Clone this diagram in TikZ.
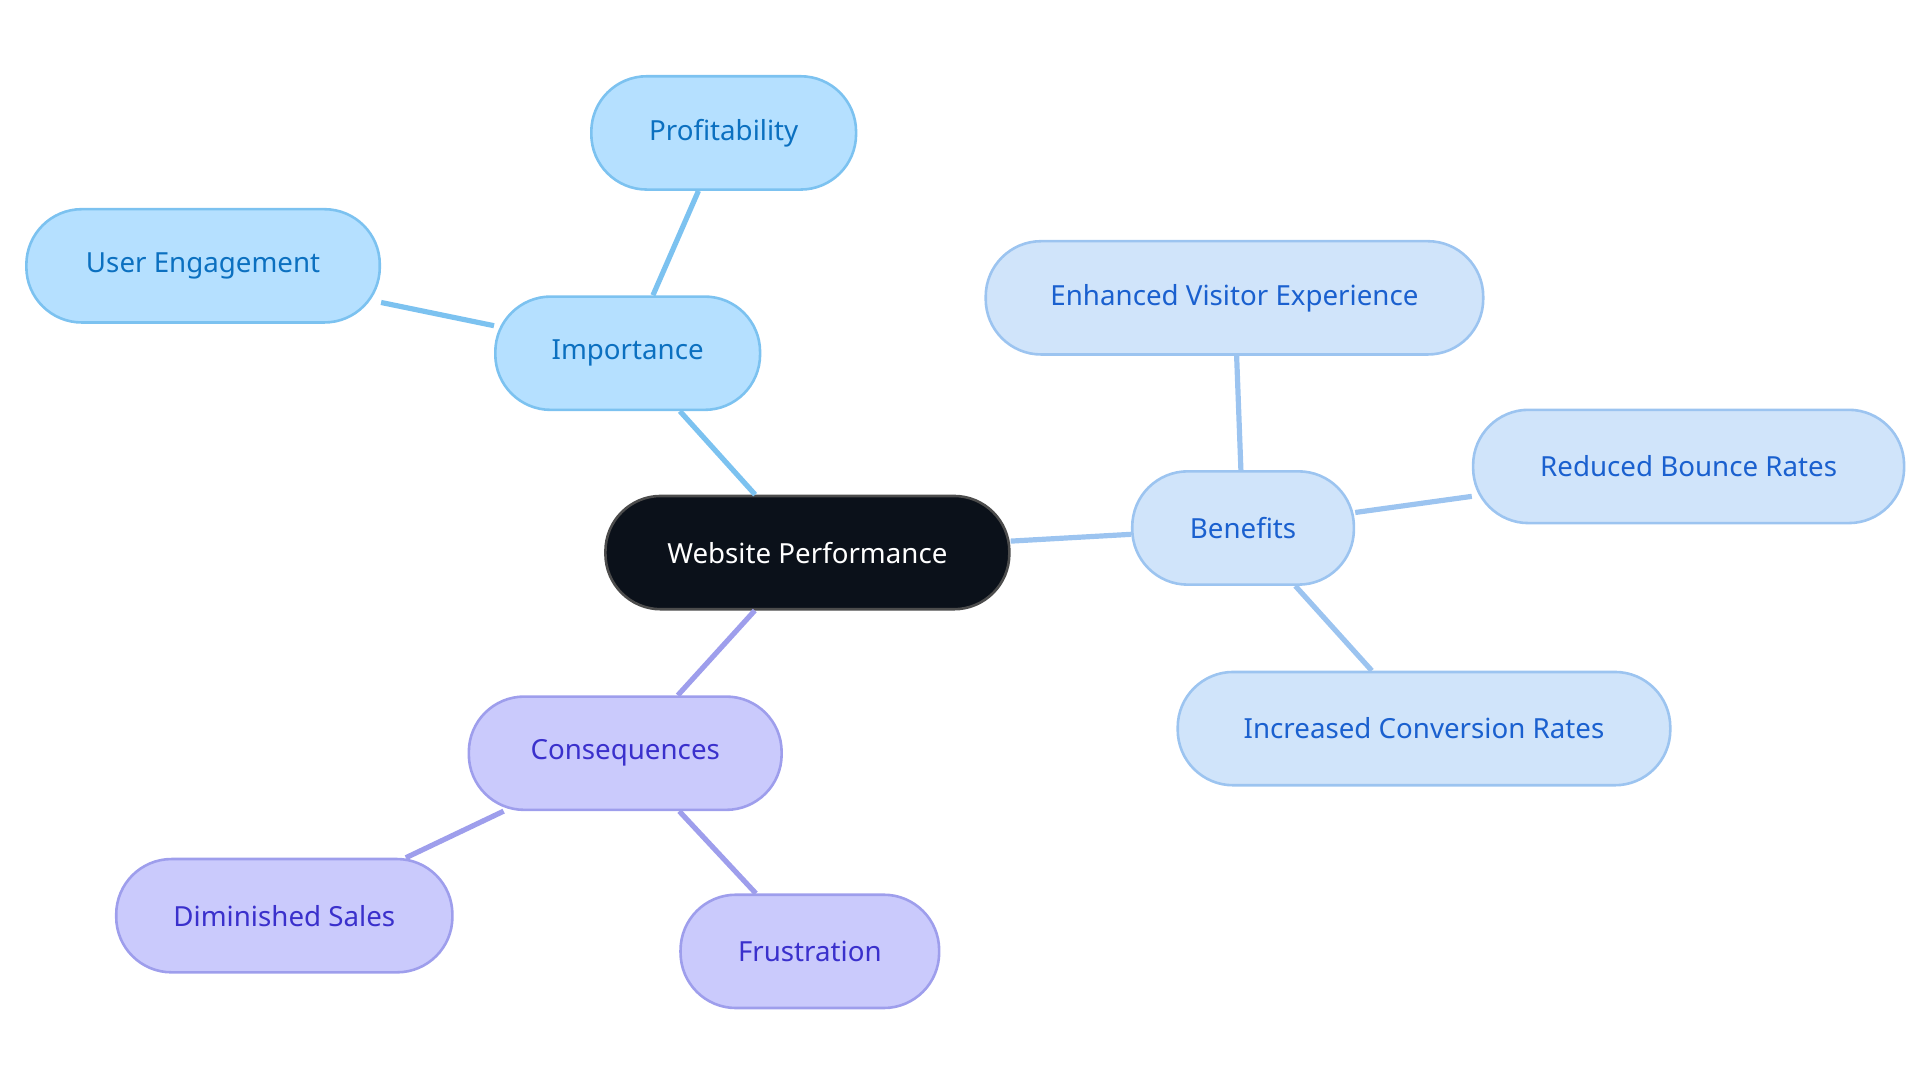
\documentclass[tikz,border=0pt]{standalone}
\usepackage{fontspec}
\setmainfont{Noto Sans}
\usetikzlibrary{positioning}
\definecolor{rootfill}{HTML}{0B111A}
\definecolor{impfill}{HTML}{B5E0FF}
\definecolor{impdraw}{HTML}{7CC2F0}
\definecolor{imptext}{HTML}{0B70C0}
\definecolor{benfill}{HTML}{D0E4FA}
\definecolor{bendraw}{HTML}{9CC4F0}
\definecolor{bentext}{HTML}{1A60CF}
\definecolor{confill}{HTML}{CACAFC}
\definecolor{condraw}{HTML}{9E9EEC}
\definecolor{context}{HTML}{3A30CC}
\tikzset{
  topic/.style={rounded corners=0.45cm, minimum height=0.92cm, inner sep=0pt, line width=0.6pt,
    font=\fontsize{6.4}{7.5}\selectfont, align=center},
  imp/.style={topic, fill=impfill, draw=impdraw, text=imptext},
  ben/.style={topic, fill=benfill, draw=bendraw, text=bentext},
  con/.style={topic, fill=confill, draw=condraw, text=context},
  link/.style={line width=1.2pt}
}
\begin{document}
\begin{tikzpicture}[x=0.01cm,y=-0.01cm]
  \useasboundingbox (0,0) rectangle (1560,880);

  \node[topic, fill=rootfill, draw=black!70, text=white, minimum width=3.28cm] (Root) at (656,449) {Website Performance};

  \node[imp, minimum width=2.15cm] (Importance) at (510,287) {Importance};
  \node[imp, minimum width=2.15cm] (Profit) at (588,108) {Profitability};
  \node[imp, minimum width=2.87cm] (Engage) at (165,216) {User Engagement};

  \node[ben, minimum width=1.80cm] (Benefits) at (1010,429) {Benefits};
  \node[ben, minimum width=4.04cm] (Visitor) at (1003,242) {Enhanced Visitor Experience};
  \node[ben, minimum width=3.50cm] (Bounce) at (1372,379) {Reduced Bounce Rates};
  \node[ben, minimum width=4.00cm] (Conversion) at (1157,592) {Increased Conversion Rates};

  \node[con, minimum width=2.54cm] (Conseq) at (508,612) {Consequences};
  \node[con, minimum width=2.73cm] (Sales) at (231,744) {Diminished Sales};
  \node[con, minimum width=2.10cm] (Frust) at (658,773) {Frustration};

  % connectors
  \begin{scope}[on background layer/.style={}]
  \draw[link, impdraw] (Root) -- (Importance);
  \draw[link, impdraw] (Importance) -- (Profit);
  \draw[link, impdraw] (Importance) -- (Engage);
  \draw[link, bendraw] (Root) -- (Benefits);
  \draw[link, bendraw] (Benefits) -- (Visitor);
  \draw[link, bendraw] (Benefits) -- (Bounce);
  \draw[link, bendraw] (Benefits) -- (Conversion);
  \draw[link, condraw] (Root) -- (Conseq);
  \draw[link, condraw] (Conseq) -- (Sales);
  \draw[link, condraw] (Conseq) -- (Frust);
  \end{scope}
\end{tikzpicture}
\end{document}
